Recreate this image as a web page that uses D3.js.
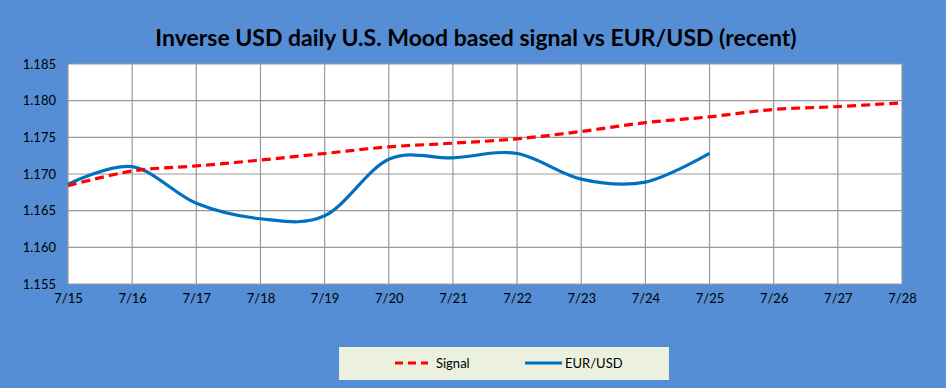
<!DOCTYPE html>
<html>
<head>
<meta charset="utf-8">
<script src="https://cdn.jsdelivr.net/npm/d3@7"></script>
<style>
  body { margin: 0; background: #558ED5; }
  text { font-family: Lato, "Open Sans", sans-serif; }
</style>
</head>
<body>
<div id="chart"></div>
<script>
// data
const dates = ["7/15", "7/16", "7/17", "7/18", "7/19", "7/20", "7/21", "7/22", "7/23", "7/24", "7/25", "7/26", "7/27", "7/28"];
const signal = [1.1684, 1.1704, 1.1711, 1.1719, 1.1728, 1.1737, 1.1742, 1.1748, 1.1758, 1.1770, 1.1778, 1.1788, 1.1792, 1.1797];
const eurusd = [1.1686, 1.1710, 1.1660, 1.1639, 1.1643, 1.1720, 1.1722, 1.1728, 1.1693, 1.1689, 1.1728];
const yTicks = [1.155, 1.160, 1.165, 1.170, 1.175, 1.180, 1.185];

const W = 946, H = 388;
const margin = {top: 64, right: 44, bottom: 104, left: 68};
const width = W - margin.left - margin.right;
const height = H - margin.top - margin.bottom;

const svg = d3.select('#chart').append('svg')
  .attr('width', W)
  .attr('height', H);

svg.append('rect')
  .attr('width', W).attr('height', H)
  .attr('fill', '#558ED5');

svg.append('text')
  .attr('x', 476)
  .attr('y', 46)
  .attr('text-anchor', 'middle')
  .style('font-size', '23px')
  .style('font-weight', 'bold')
  .attr('fill', '#000')
  .text('Inverse USD daily U.S. Mood based signal vs EUR/USD (recent)');

const g = svg.append('g')
  .attr('transform', `translate(${margin.left},${margin.top})`);

const x = d3.scalePoint().domain(dates).range([0, width]);
const y = d3.scaleLinear().domain([1.155, 1.185]).range([height, 0]);

g.append('rect')
  .attr('width', width).attr('height', height)
  .attr('fill', '#fff');

// gridlines
g.selectAll('.hgrid').data(yTicks).enter().append('line')
  .attr('x1', 0).attr('x2', width)
  .attr('y1', d => y(d)).attr('y2', d => y(d))
  .attr('stroke', '#999').attr('stroke-width', 1.2);

g.selectAll('.vgrid').data(dates).enter().append('line')
  .attr('x1', d => x(d)).attr('x2', d => x(d))
  .attr('y1', 0).attr('y2', height)
  .attr('stroke', '#999').attr('stroke-width', 1.2);

// axes
const yAxis = g.append('g')
  .call(d3.axisLeft(y).tickValues(yTicks).tickFormat(d3.format('.3f')).tickSize(0).tickPadding(12));
yAxis.select('.domain').remove();
yAxis.selectAll('text').style('font-size', '13px').attr('fill', '#000')
  .style('font-family', 'Lato, sans-serif');

const xAxis = g.append('g')
  .attr('transform', `translate(0,${height})`)
  .call(d3.axisBottom(x).tickSize(0).tickPadding(10));
xAxis.select('.domain').remove();
xAxis.selectAll('text').style('font-size', '13px').attr('fill', '#000')
  .style('font-family', 'Lato, sans-serif');

// lines
const line = d3.line()
  .x((d, i) => x(dates[i]))
  .y(d => y(d))
  .curve(d3.curveCardinal.tension(0));

g.append('path')
  .datum(eurusd)
  .attr('d', line)
  .attr('fill', 'none')
  .attr('stroke', '#0070C0')
  .attr('stroke-width', 3.2);

g.append('path')
  .datum(signal)
  .attr('d', line)
  .attr('fill', 'none')
  .attr('stroke', '#FF0000')
  .attr('stroke-width', 3.2)
  .attr('stroke-dasharray', '9,5');

// legend
const legend = svg.append('g');
legend.append('rect')
  .attr('x', 339).attr('y', 347)
  .attr('width', 330).attr('height', 33)
  .attr('fill', '#EBF1DE');

const legendItems = [
  {label: 'Signal', color: '#FF0000', dash: '8,5', x1: 395, x2: 428, tx: 436},
  {label: 'EUR/USD', color: '#0070C0', dash: null, x1: 525, x2: 562, tx: 565}
];
legendItems.forEach(d => {
  legend.append('line')
    .attr('x1', d.x1).attr('x2', d.x2)
    .attr('y1', 363).attr('y2', 363)
    .attr('stroke', d.color).attr('stroke-width', 3)
    .attr('stroke-dasharray', d.dash);
  legend.append('text')
    .attr('x', d.tx).attr('y', 368)
    .style('font-size', '13px')
    .attr('fill', '#000')
    .text(d.label);
});
</script>
</body>
</html>
